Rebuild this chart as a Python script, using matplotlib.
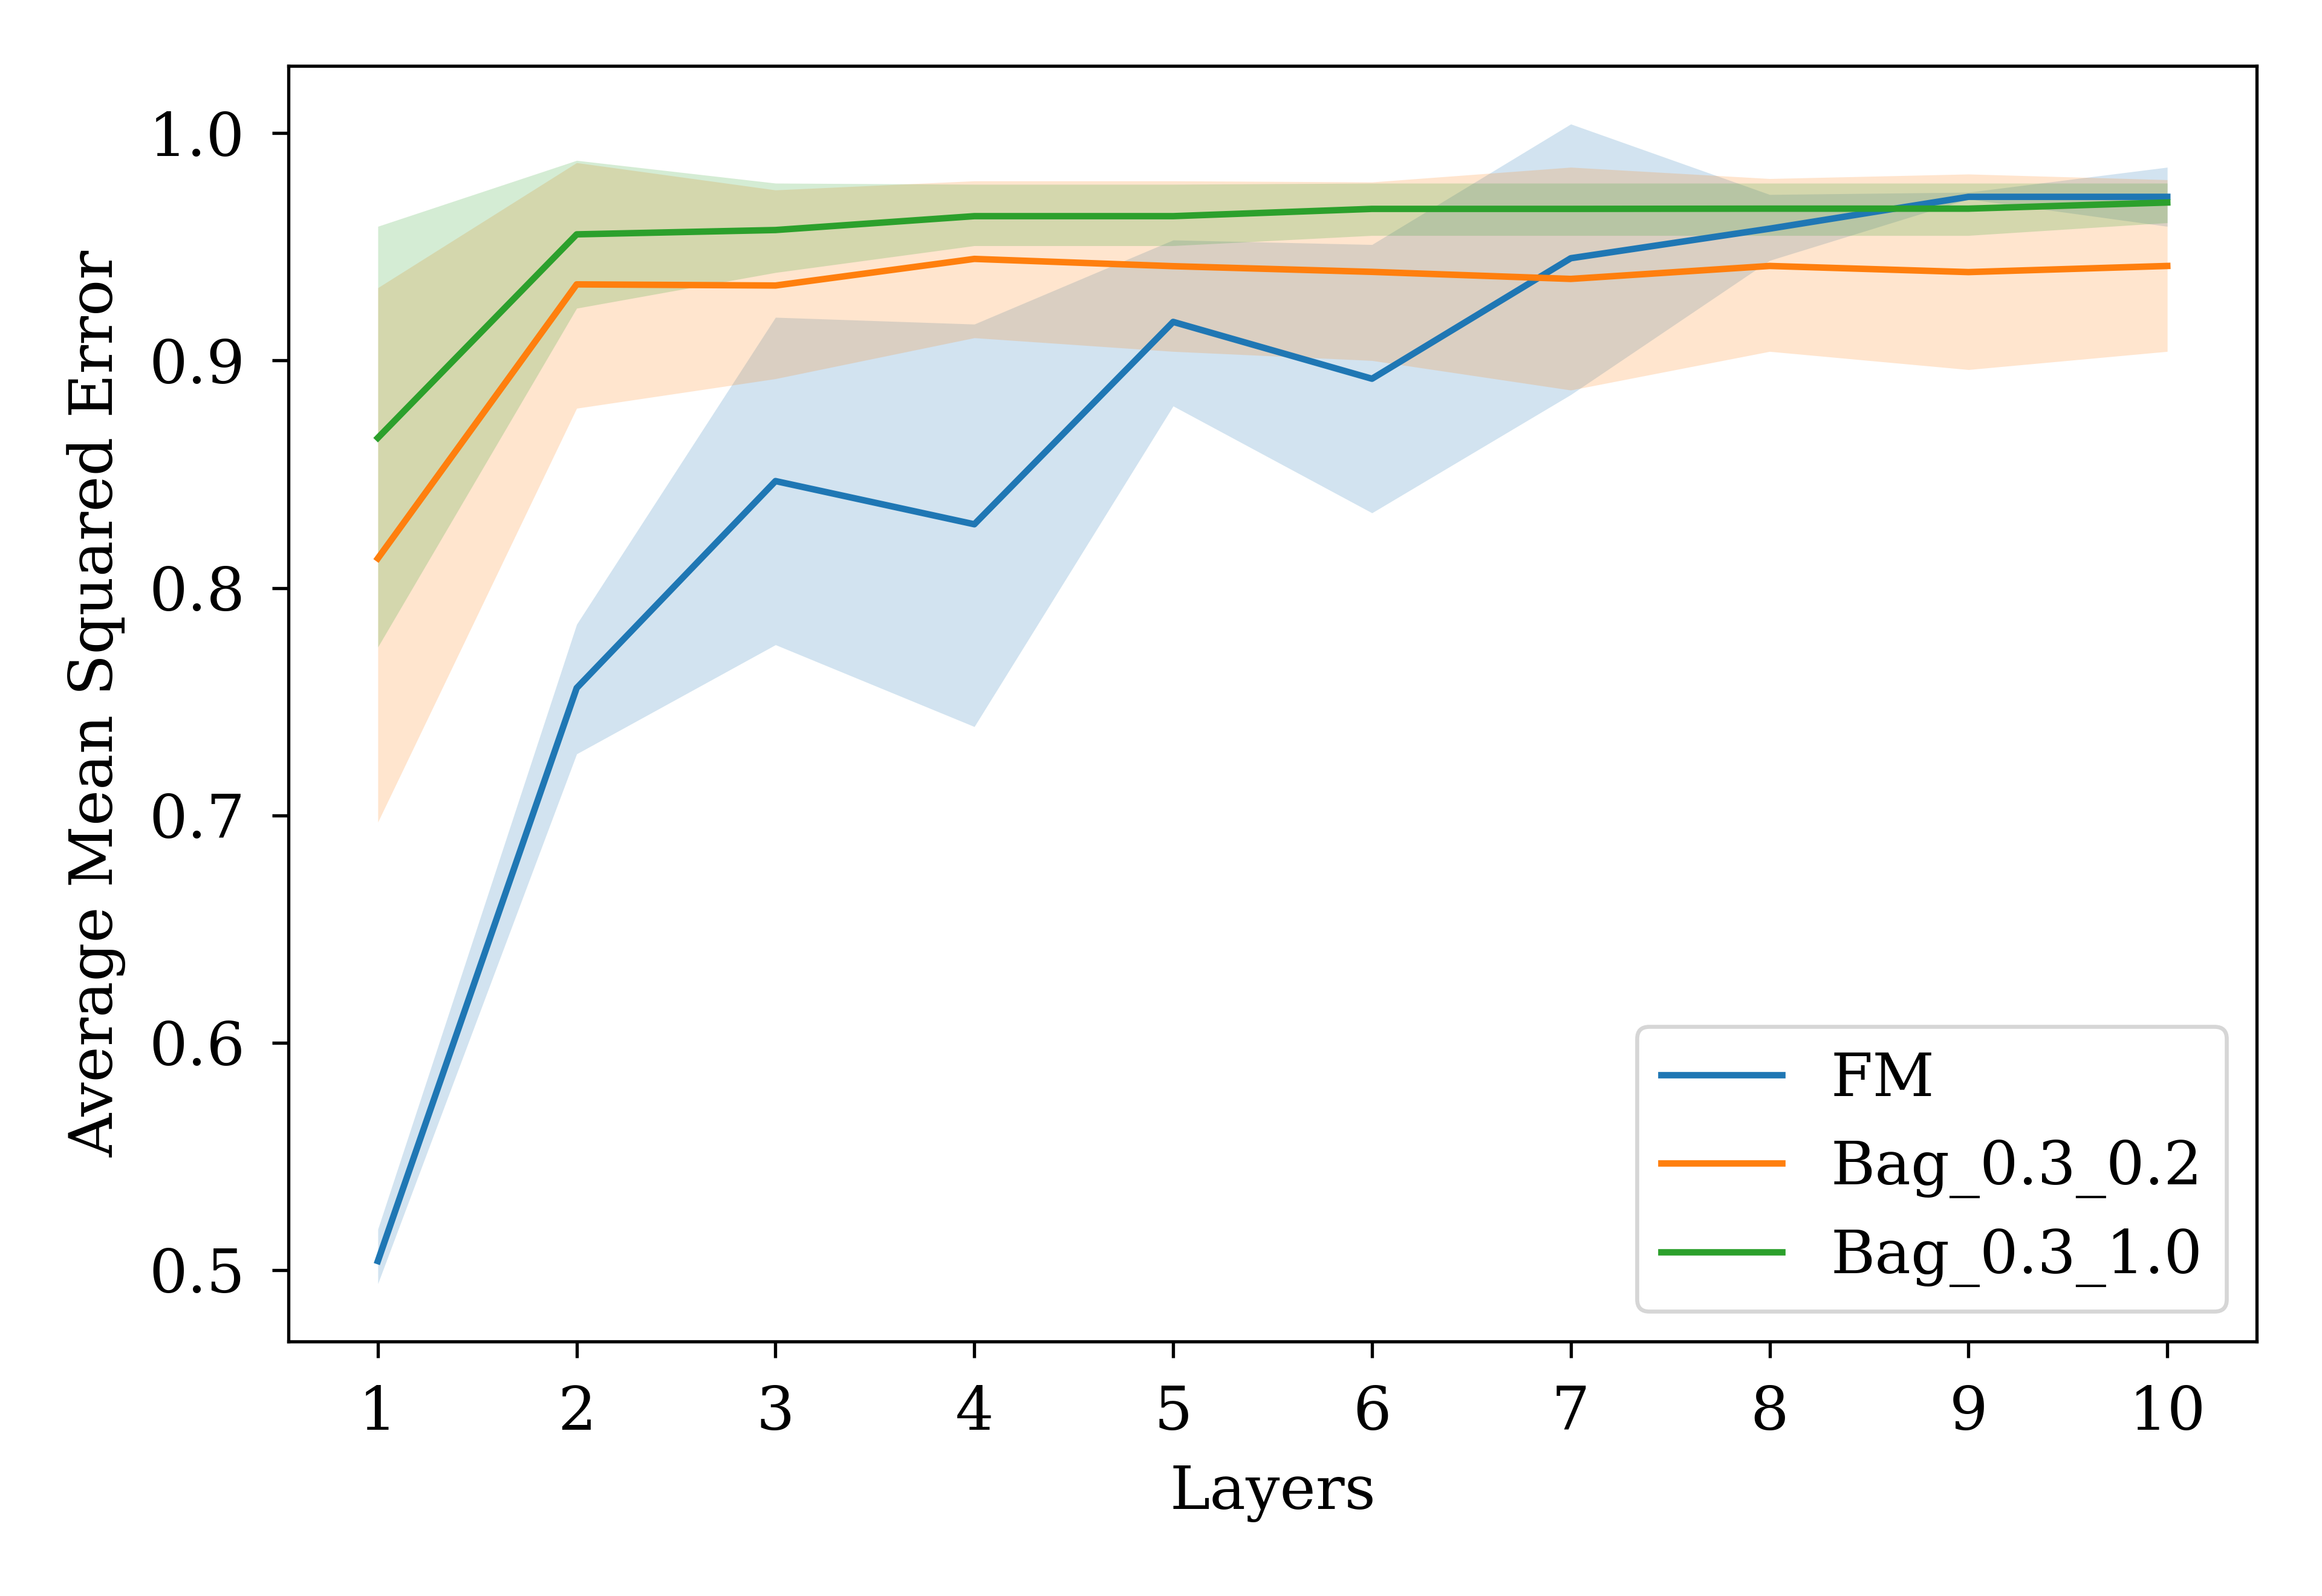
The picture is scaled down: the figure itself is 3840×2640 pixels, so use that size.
import numpy as np
import matplotlib
matplotlib.use("Agg")
import matplotlib.pyplot as plt

plt.rcParams['font.family'] = 'serif'
plt.rcParams['font.serif'] = ['DejaVu Serif']
plt.rcParams['font.size'] = 15
plt.rcParams['xtick.major.size'] = 4
plt.rcParams['ytick.major.size'] = 4
plt.rcParams['xtick.major.pad'] = 6.6
plt.rcParams['ytick.major.pad'] = 6.8

# Datos
layers = [1, 2, 3, 4, 5, 6, 7, 8, 9, 10]

fm_mean = [0.504, 0.756, 0.847, 0.828, 0.917, 0.892, 0.945, 0.958, 0.972, 0.972]
fm_low = [0.494, 0.727, 0.775, 0.739, 0.880, 0.833, 0.885, 0.944, 0.971, 0.959]
fm_high = [0.518, 0.784, 0.919, 0.916, 0.953, 0.951, 1.004, 0.973, 0.974, 0.985]

bag02_mean = [0.813, 0.9335, 0.933, 0.9447, 0.9415, 0.939, 0.9359, 0.9416, 0.9389, 0.9416]
bag02_low = [0.697, 0.879, 0.892, 0.910, 0.904, 0.900, 0.887, 0.904, 0.896, 0.904]
bag02_high = [0.932, 0.987, 0.975, 0.979, 0.979, 0.9785, 0.985, 0.980, 0.982, 0.9795]

bag10_mean = [0.866, 0.9555, 0.9574, 0.9635, 0.9635, 0.9667, 0.9667, 0.9668, 0.9668, 0.9695]
bag10_low = [0.774, 0.923, 0.9387, 0.9505, 0.9505, 0.955, 0.955, 0.955, 0.955, 0.9606]
bag10_high = [0.959, 0.988, 0.978, 0.9775, 0.9775, 0.978, 0.978, 0.978, 0.978, 0.978]

series = [
    ("FM", fm_mean, fm_low, fm_high),
    ("Bag_0.3_0.2", bag02_mean, bag02_low, bag02_high),
    ("Bag_0.3_1.0", bag10_mean, bag10_low, bag10_high),
]

fig = plt.figure(figsize=(8, 5.5), dpi=480)
ax = fig.add_axes([0.1242, 0.1593, 0.9719 - 0.1242, 0.9586 - 0.1593])

for name, mean, low, high in series:
    line, = ax.plot(layers, mean, label=name, linewidth=1.6)
    ax.fill_between(layers, low, high, color=line.get_color(), alpha=0.2, linewidth=0)

ax.set_xticks(layers)
ax.set_xlabel("Layers", labelpad=5.5)
ax.set_ylabel("Average Mean Squared Error", labelpad=5.6)
ax.legend(loc="lower right")

fig.savefig("out.png", dpi=480)
